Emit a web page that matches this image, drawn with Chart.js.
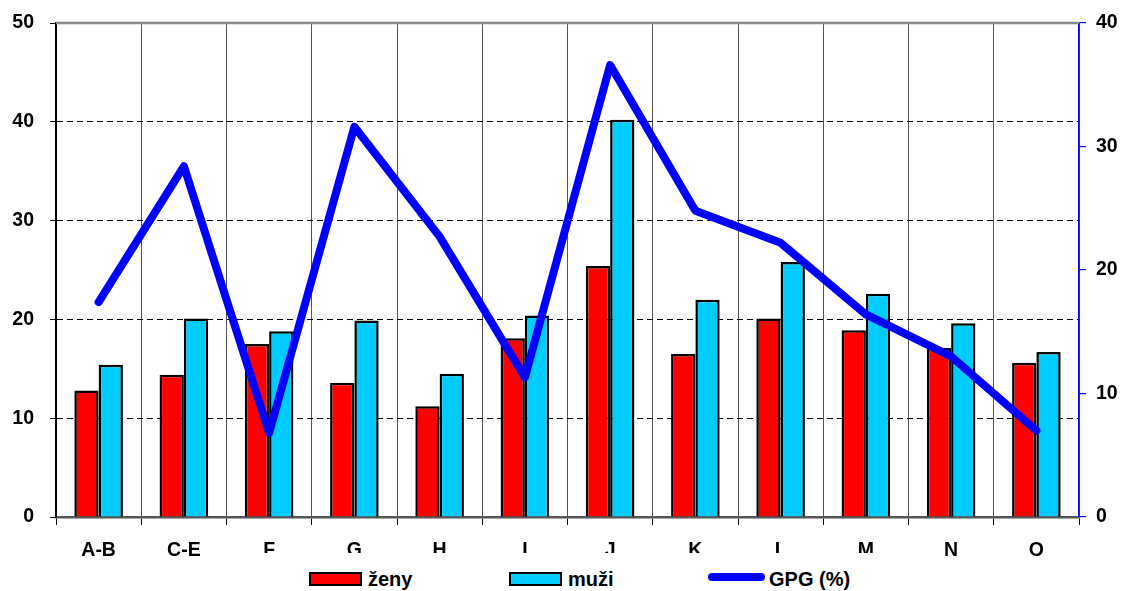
<!DOCTYPE html>
<html>
<head>
<meta charset="utf-8">
<script src="https://cdn.jsdelivr.net/npm/chart.js@4/dist/chart.umd.min.js"></script>
<style>
  html, body { margin: 0; padding: 0; background: #fff; }
  #wrap { position: relative; width: 1121px; height: 591px; overflow: hidden; }
  #c { display: block; }
  #legend { position: absolute; left: 235px; top: 553px; width: 650px; height: 38px; background: #fff; }
  .sw { position: absolute; box-sizing: border-box; }
  .lt { position: absolute; font-family: "Liberation Sans", Arial, sans-serif; font-weight: bold; font-size: 20px; line-height: 20px; color: #000; white-space: nowrap; }
</style>
</head>
<body>
<div id="wrap">
  <canvas id="c" width="1121" height="591"></canvas>
  <div id="legend"></div>
</div>
<script>
const categories = ['A-B', 'C-E', 'F', 'G', 'H', 'I', 'J', 'K', 'L', 'M', 'N', 'O'];
const zeny = [12.8, 14.4, 17.5, 13.6, 11.2, 18.1, 25.4, 16.5, 20.1, 18.9, 17.1, 15.6];
const muzi = [15.4, 20.1, 18.8, 19.9, 14.5, 20.4, 40.2, 22.0, 25.8, 22.6, 19.6, 16.7];
const gpg = [17.4, 28.4, 6.8, 31.6, 22.7, 11.3, 36.6, 24.8, 22.2, 16.4, 13.0, 7.0];
const leftTicks = [0, 10, 20, 30, 40, 50];
const rightTicks = [0, 10, 20, 30, 40];
const seriesNames = ['ženy', 'muži', 'GPG (%)'];

const FONT = { family: '"Liberation Sans", Arial, sans-serif', size: 19.5, weight: 'bold' };

const topBorder = {
  id: 'topBorder',
  beforeDatasetsDraw(chart) {
    const { ctx, chartArea } = chart;
    ctx.save();
    ctx.strokeStyle = '#8a8a8a';
    ctx.lineWidth = 2.5;
    ctx.beginPath();
    ctx.moveTo(chartArea.left, chartArea.top);
    ctx.lineTo(chartArea.right, chartArea.top);
    ctx.stroke();
    ctx.restore();
  }
};

new Chart(document.getElementById('c'), {
  data: {
    labels: categories,
    datasets: [
      {
        type: 'line', label: seriesNames[2], data: gpg, yAxisID: 'y2', order: 0,
        borderColor: '#0000FF', borderWidth: 8, pointRadius: 0, tension: 0,
        borderCapStyle: 'round', borderJoinStyle: 'round', fill: false
      },
      {
        type: 'bar', label: seriesNames[0], data: zeny, yAxisID: 'y', order: 1,
        backgroundColor: '#FF0000', borderColor: '#000', borderWidth: 2.5,
        categoryPercentage: 0.57, barPercentage: 1
      },
      {
        type: 'bar', label: seriesNames[1], data: muzi, yAxisID: 'y', order: 1,
        backgroundColor: '#00CCFF', borderColor: '#000', borderWidth: 2.5,
        categoryPercentage: 0.57, barPercentage: 1
      }
    ]
  },
  options: {
    responsive: false,
    animation: false,
    devicePixelRatio: 1,
    layout: { padding: { top: 23, left: 0, right: 0, bottom: 0 } },
    plugins: { legend: { display: false }, tooltip: { enabled: false } },
    scales: {
      x: {
        type: 'category',
        offset: true,
        grid: { offset: true, color: '#555', lineWidth: 1, drawTicks: true, tickLength: 8, tickColor: '#000' },
        border: { color: '#555', width: 2.5 },
        ticks: { font: FONT, color: '#000', padding: 14, maxRotation: 0, autoSkip: false },
        afterFit(s) { s.height = 74; s.paddingLeft = 0; s.paddingRight = 0; }
      },
      y: {
        position: 'left', min: 0, max: 50,
        afterBuildTicks(s) { s.ticks = leftTicks.map(v => ({ value: v })); },
        ticks: { font: FONT, color: '#000', padding: 16 },
        grid: {
          color: (c) => (c.tick && (c.tick.value === 0 || c.tick.value === 50)) ? 'rgba(0,0,0,0)' : '#000',
          lineWidth: 1, tickLength: 6, tickColor: '#000', tickBorderDash: []
        },
        border: { color: '#000', width: 2, dash: [6, 4] },
        afterFit(s) { s.width = 56; s.paddingTop = 0; s.paddingBottom = 0; }
      },
      y2: {
        position: 'right', min: 0, max: 40,
        afterBuildTicks(s) { s.ticks = rightTicks.map(v => ({ value: v })); },
        ticks: { font: FONT, color: '#000', padding: 10 },
        grid: { drawOnChartArea: false, tickLength: 7, tickColor: '#0000FF', lineWidth: 1.2 },
        border: { color: '#0000FF', width: 1.5 },
        afterFit(s) { s.width = 42; s.paddingTop = 0; s.paddingBottom = 0; }
      }
    }
  },
  plugins: [topBorder]
});

// HTML legend (overlay with white background)
const lg = document.getElementById('legend');
const L0 = 235, T0 = 553;
function add(el) { lg.appendChild(el); }
function swatch(x, color) {
  const d = document.createElement('div');
  d.className = 'sw';
  d.style.left = (x - L0) + 'px'; d.style.top = (572 - T0) + 'px';
  d.style.width = '53px'; d.style.height = '14px';
  d.style.background = color; d.style.border = '2px solid #000';
  add(d);
}
function label(x, text) {
  const s = document.createElement('div');
  s.className = 'lt';
  s.style.left = (x - L0) + 'px'; s.style.top = (569 - T0) + 'px';
  s.textContent = text;
  add(s);
}
swatch(309, '#FF0000'); label(368, seriesNames[0]);
swatch(509, '#00CCFF'); label(568, seriesNames[1]);
const ln = document.createElement('div');
ln.className = 'sw';
ln.style.left = (708 - L0) + 'px'; ln.style.top = (573 - T0) + 'px';
ln.style.width = '57px'; ln.style.height = '8px'; ln.style.borderRadius = '4px';
ln.style.background = '#0000FF';
add(ln);
label(769, seriesNames[2]);
</script>
</body>
</html>
